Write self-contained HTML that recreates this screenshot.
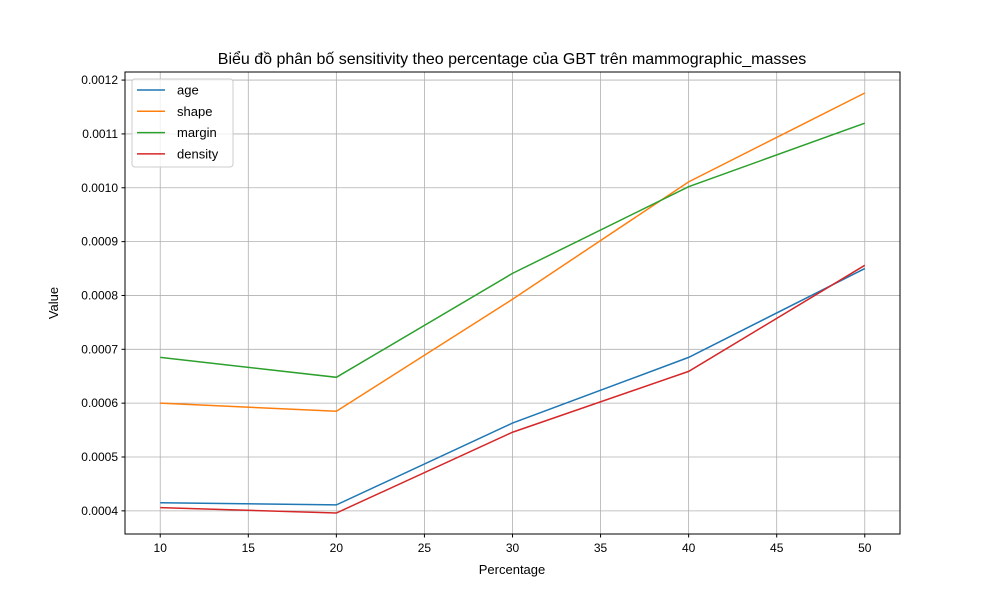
<!DOCTYPE html>
<html><head><meta charset="utf-8"><style>
body{margin:0;background:#fff;}
svg text{font-family:"Liberation Sans","DejaVu Sans",sans-serif;}
</style></head><body>
<svg id="chart" width="1000" height="600" xmlns="http://www.w3.org/2000/svg">
<rect width="1000" height="600" fill="#fff"/>
<g id="grid"></g>
<g id="lines"></g>
<rect x="125" y="72" width="775" height="462" fill="none" stroke="#000" stroke-width="1"/>
<g id="ticks"></g>
<text x="512" y="64" text-anchor="middle" font-size="16">Biểu đồ phân bố sensitivity theo percentage của GBT trên mammographic_masses</text>
<text x="512" y="574" text-anchor="middle" font-size="13">Percentage</text>
<text x="58" y="303" text-anchor="middle" font-size="13" transform="rotate(-90 58 303)">Value</text>
<g id="legend"></g>
</svg>
<script>
const categories=[10,20,30,40,50];
const seriesNames=["age","shape","margin","density"];
const age=[0.000415,0.000411,0.000563,0.000685,0.00085];
const shape=[0.0006,0.000585,0.000793,0.001011,0.001176];
const margin=[0.000685,0.000648,0.000841,0.001002,0.00112];
const density=[0.000406,0.000396,0.000546,0.000659,0.000856];
const xTicks=[10,15,20,25,30,35,40,45,50];
const yTicks=[0.0004,0.0005,0.0006,0.0007,0.0008,0.0009,0.0010,0.0011,0.0012];
const colors=["#1f77b4","#ff7f0e","#2ca02c","#d62728"];
const NS="http://www.w3.org/2000/svg";
const L=125,R=900,T=72,B=534;
const all=[age,shape,margin,density];
let mn=Math.min(...all.flat()),mx=Math.max(...all.flat());
const xmin=Math.min(...categories),xmax=Math.max(...categories);
const xm=(xmax-xmin)*0.05,ym=(mx-mn)*0.05;
const x=v=>L+(v-(xmin-xm))/((xmax+xm)-(xmin-xm))*(R-L);
const y=v=>B-(v-(mn-ym))/((mx+ym)-(mn-ym))*(B-T);
function mk(tag,attrs,parent){const e=document.createElementNS(NS,tag);for(const k in attrs)e.setAttribute(k,attrs[k]);parent.appendChild(e);return e;}
const grid=document.getElementById('grid'),ticks=document.getElementById('ticks'),lines=document.getElementById('lines');
xTicks.forEach(t=>{const px=x(t);
 const g=mk('line',{x1:px,x2:px,y1:T,y2:B,stroke:'#b0b0b0','stroke-width':0.8},grid);
 
 const tk=mk('line',{x1:px,x2:px,y1:B,y2:B+3.5,stroke:'#000'},ticks);
 
 const tx=mk('text',{x:px,y:B+18,'text-anchor':'middle','font-size':12},ticks);tx.textContent=t;
 });
yTicks.forEach(t=>{const py=y(t);
 const g=mk('line',{x1:L,x2:R,y1:py,y2:py,stroke:'#b0b0b0','stroke-width':0.8},grid);
 
 const tk=mk('line',{x1:L-3.5,x2:L,y1:py,y2:py,stroke:'#000'},ticks);
 
 const tx=mk('text',{x:L-7,y:py+4,'text-anchor':'end','font-size':12},ticks);tx.textContent=t.toFixed(4);
 });
all.forEach((s,i)=>{const p=mk('polyline',{points:s.map((v,j)=>x(categories[j])+','+y(v)).join(' '),fill:'none',stroke:colors[i],'stroke-width':1.5},lines);
 });
const lg=document.getElementById('legend');
const box=mk('rect',{x:132,y:79,width:101,height:88,rx:3,fill:'#fff','fill-opacity':0.8,stroke:'#ccc'},lg);

seriesNames.forEach((n,i)=>{const yy=90+i*21.3;
 const l=mk('line',{x1:137,x2:165,y1:yy,y2:yy,stroke:colors[i],'stroke-width':1.5},lg);
 
 const t=mk('text',{x:177,y:yy+4.5,'font-size':13},lg);t.textContent=n;
 });
</script>
</body></html>
